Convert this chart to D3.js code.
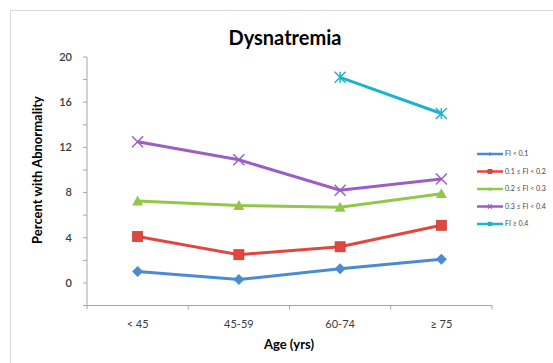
<!DOCTYPE html>
<html>
<head>
<meta charset="utf-8">
<script src="https://cdn.jsdelivr.net/npm/d3@7"></script>
<style>
  body { margin: 0; background: #fff; }
  text { font-family: Lato, 'Open Sans', sans-serif; }
</style>
</head>
<body>
<div class="chart"></div>
<script>
const ageGroups = ['< 45', '45-59', '60-74', '≥ 75']
const seriesNames = ['FI < 0.1', '0.1 ≤ FI < 0.2', '0.2 ≤ FI < 0.3', '0.3 ≤ FI < 0.4', 'FI ≥ 0.4']
const fiLow = [1.0, 0.3, 1.25, 2.1]
const fi01 = [4.1, 2.5, 3.2, 5.1]
const fi02 = [7.25, 6.85, 6.7, 7.9]
const fi03 = [12.5, 10.9, 8.2, 9.2]
const fiHigh = [null, null, 18.2, 15.0]
const yTicks = [0, 4, 8, 12, 16, 20]

;(function init() {
  const width = 553
  const height = 363
  const colors = ['#4a8bd3', '#e2473f', '#91c847', '#9b5ec6', '#1db3cf']
  const markers = ['diamond', 'square', 'triangle', 'x', 'star']
  const seriesValues = [fiLow, fi01, fi02, fi03, fiHigh]

  const svg = d3
    .select('.chart')
    .append('svg')
    .attr('width', width)
    .attr('height', height)

  // frame
  svg
    .append('rect')
    .attr('x', 10.5)
    .attr('y', 10.5)
    .attr('width', 600)
    .attr('height', 400)
    .attr('fill', 'none')
    .attr('stroke', '#d9d9d9')

  const xScale = d3.scaleBand().domain(ageGroups).range([87, 492])
  const yScale = d3.scaleLinear().domain([-2, 20]).range([305.5, 57])

  // y axis
  const yAxis = svg.append('g').attr('transform', 'translate(87,0)')
  yAxis
    .append('line')
    .attr('y1', yScale(20))
    .attr('y2', yScale(-2))
    .attr('stroke', '#a6a6a6')
  yAxis
    .selectAll('.tick')
    .data(d3.range(-2, 21, 2))
    .enter()
    .append('line')
    .attr('x1', -4)
    .attr('x2', 0)
    .attr('y1', (d) => yScale(d))
    .attr('y2', (d) => yScale(d))
    .attr('stroke', '#a6a6a6')
  yAxis
    .selectAll('.lbl')
    .data(yTicks)
    .enter()
    .append('text')
    .attr('x', -15)
    .attr('y', (d) => yScale(d))
    .attr('dy', '0.35em')
    .attr('text-anchor', 'end')
    .style('font-size', '11px')
    .style('font-weight', '600')
    .style('fill', '#3a3a3a')
    .text((d) => d)

  // x axis
  const xAxis = svg.append('g').attr('transform', 'translate(0,' + yScale(-2) + ')')
  xAxis
    .append('line')
    .attr('x1', 87)
    .attr('x2', 492)
    .attr('stroke', '#a6a6a6')
  xAxis
    .selectAll('.tick')
    .data(ageGroups.map((d) => xScale(d)).concat([492]))
    .enter()
    .append('line')
    .attr('x1', (d) => d)
    .attr('x2', (d) => d)
    .attr('y1', 0)
    .attr('y2', 4)
    .attr('stroke', '#a6a6a6')
  xAxis
    .selectAll('.lbl')
    .data(ageGroups)
    .enter()
    .append('text')
    .attr('x', (d) => xScale(d) + xScale.bandwidth() / 2)
    .attr('y', 22)
    .attr('text-anchor', 'middle')
    .style('font-size', '11px')
    .style('fill', '#3a3a3a')
    .text((d) => d)

  // titles
  svg
    .append('text')
    .attr('x', 285)
    .attr('y', 45)
    .attr('text-anchor', 'middle')
    .style('font-size', '20px')
    .style('font-weight', 'bold')
    .text('Dysnatremia')

  svg
    .append('text')
    .attr('x', 289)
    .attr('y', 349)
    .attr('text-anchor', 'middle')
    .style('font-size', '13px')
    .style('font-weight', 'bold')
    .text('Age (yrs)')

  svg
    .append('text')
    .attr('transform', 'translate(42,' + 170 + ') rotate(-90)')
    .attr('text-anchor', 'middle')
    .style('font-size', '13px')
    .style('font-weight', 'bold')
    .text('Percent with Abnormality')

  const cx = (i) => xScale(ageGroups[i]) + xScale.bandwidth() / 2

  function drawMarker(g, type, color, size) {
    const s = size
    if (type === 'diamond') {
      g.append('path').attr('d', `M0,${-s}L${s},0L0,${s}L${-s},0Z`).attr('fill', color)
    } else if (type === 'square') {
      g.append('rect')
        .attr('x', -s)
        .attr('y', -s)
        .attr('width', 2 * s)
        .attr('height', 2 * s)
        .attr('fill', color)
        .attr('stroke', d3.color(color).darker(0.4))
        .attr('stroke-width', 0.8)
    } else if (type === 'triangle') {
      g.append('path').attr('d', `M0,${-s}L${s},${s * 0.8}L${-s},${s * 0.8}Z`).attr('fill', color)
    } else if (type === 'x') {
      g.append('path')
        .attr('d', `M${-s},${-s}L${s},${s}M${-s},${s}L${s},${-s}`)
        .attr('stroke', color)
        .attr('stroke-width', 1.5)
    } else {
      g.append('path')
        .attr('d', `M${-s},${-s}L${s},${s}M${-s},${s}L${s},${-s}M0,${-s}L0,${s}`)
        .attr('stroke', color)
        .attr('stroke-width', 1.5)
    }
  }

  const line = d3
    .line()
    .defined((d) => d.v != null)
    .x((d) => cx(d.i))
    .y((d) => yScale(d.v))

  seriesValues.forEach((vals, k) => {
    const pts = vals.map((v, i) => ({ v, i }))
    svg
      .append('path')
      .datum(pts)
      .attr('d', line)
      .attr('fill', 'none')
      .attr('stroke', colors[k])
      .attr('stroke-width', 3)
    pts
      .filter((d) => d.v != null)
      .forEach((d) => {
        const g = svg.append('g').attr('transform', `translate(${cx(d.i)},${yScale(d.v)})`)
        drawMarker(g, markers[k], colors[k], k === 1 ? 5 : 5.5)
      })
  })

  // legend
  const legend = svg.append('g')
  seriesNames.forEach((name, k) => {
    const y = 154 + k * 17.5
    legend
      .append('line')
      .attr('x1', 477)
      .attr('x2', 503)
      .attr('y1', y)
      .attr('y2', y)
      .attr('stroke', colors[k])
      .attr('stroke-width', 2.5)
    const g = legend.append('g').attr('transform', `translate(490,${y})`)
    drawMarker(g, markers[k], colors[k], 2)
    legend
      .append('text')
      .attr('x', 505)
      .attr('y', y)
      .attr('dy', '0.35em')
      .style('font-size', '7px')
      .style('fill', '#444')
      .text(name)
  })
})()
</script>
</body>
</html>
